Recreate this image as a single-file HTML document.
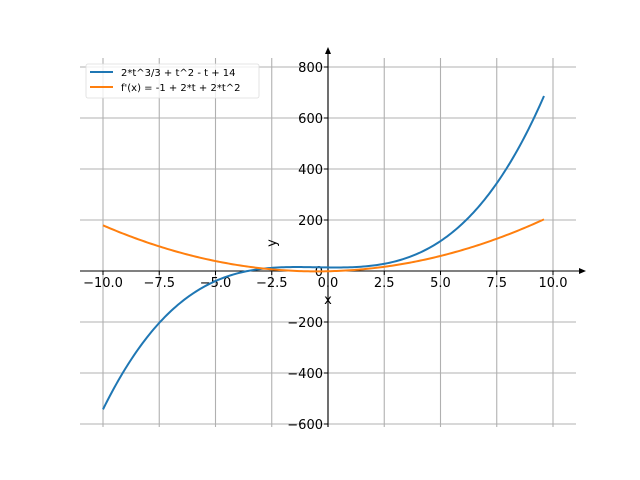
<!DOCTYPE html>
<html><head><style>body{margin:0;background:#fff}svg{display:block}text{font-family:"DejaVu Sans","Liberation Sans",sans-serif}</style></head>
<body>
<svg id="s" width="640" height="480" xmlns="http://www.w3.org/2000/svg">
<g stroke="#b0b0b0" stroke-width="1.1" id="grid"></g>
<g id="ticks" font-size="13" fill="#000"></g>
<line x1="80" y1="271" x2="582" y2="271" stroke="#000" stroke-width="1.1"/>
<polygon points="586,271 579,268 579,274" fill="#000"/>
<line x1="328" y1="427" x2="328" y2="52" stroke="#000" stroke-width="1.1"/>
<polygon points="328,47 325,54 331,54" fill="#000"/>
<path id="p1" fill="none" stroke="#1f77b4" stroke-width="2"/>
<path id="p2" fill="none" stroke="#ff7f0e" stroke-width="2"/>
<text x="328" y="304" font-size="13" text-anchor="middle">x</text>
<text x="276" y="243" font-size="13" text-anchor="middle" transform="rotate(-90 276 243)">y</text>
<rect x="86" y="64" width="173" height="34" rx="2" fill="#fff" fill-opacity="0.8" stroke="#ddd" stroke-width="0.8"/>
<line x1="90" y1="72" x2="113" y2="72" stroke="#1f77b4" stroke-width="2"/>
<line x1="90" y1="87" x2="113" y2="87" stroke="#ff7f0e" stroke-width="2"/>
<text x="121" y="76" font-size="10">2*t^3/3 + t^2 - t + 14</text>
<text x="121" y="91" font-size="10">f'(x) = -1 + 2*t + 2*t^2</text>
</svg>
<script>
var X=t=>328+22.5*t, Y=v=>271-0.255*v;
var g=document.getElementById('grid'),tk=document.getElementById('ticks'),ns='http://www.w3.org/2000/svg';
function el(p,n,a,txt){var e=document.createElementNS(ns,n);for(var k in a)e.setAttribute(k,a[k]);if(txt!=null)e.textContent=txt;p.appendChild(e);}
for(var t=-10;t<=10;t+=2.5){var x=X(t);el(g,'line',{x1:x,y1:58,x2:x,y2:427});el(tk,'line',{x1:x,y1:271,x2:x,y2:275,stroke:'#000'});el(tk,'text',{x:x,y:287,'text-anchor':'middle'},(t<0?'\u2212':'')+Math.abs(t).toFixed(1));}
for(var v=-600;v<=800;v+=200){var y=Y(v);el(g,'line',{x1:80,y1:y,x2:576,y2:y});el(tk,'line',{x1:324,y1:y,x2:328,y2:y,stroke:'#000'});el(tk,'text',{x:323,y:y+5,'text-anchor':'end'},(v<0?'\u2212':'')+Math.abs(v));}
var a='',b='';for(var i=0;i<=200;i++){var t=-10+19.6*i/200;a+=(i?'L':'M')+X(t).toFixed(2)+','+Y(2*t*t*t/3+t*t-t+14).toFixed(2);b+=(i?'L':'M')+X(t).toFixed(2)+','+Y(-1+2*t+2*t*t).toFixed(2);}
document.getElementById('p1').setAttribute('d',a);document.getElementById('p2').setAttribute('d',b);
</script>
</body></html>
